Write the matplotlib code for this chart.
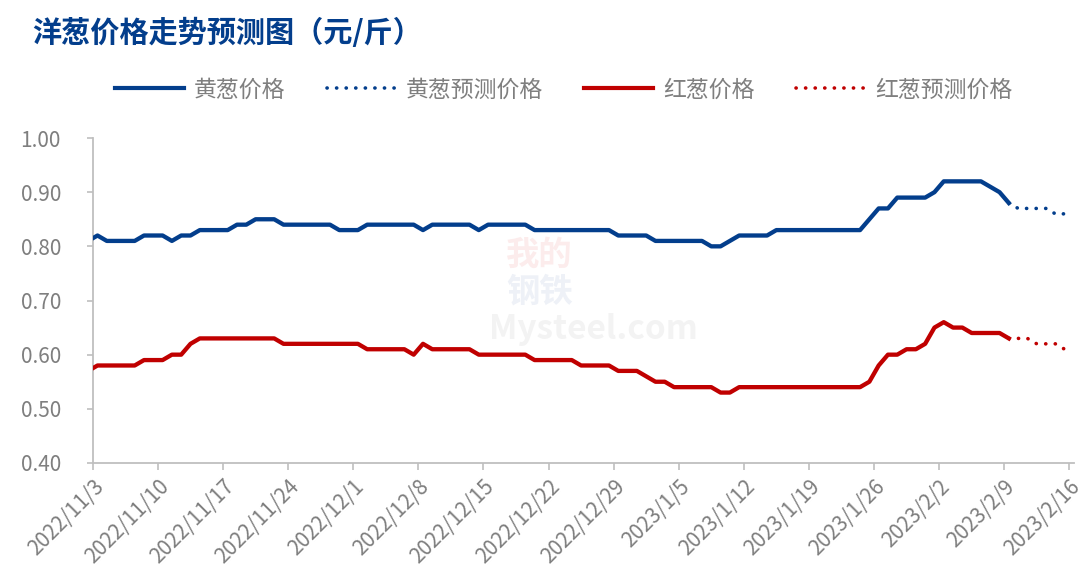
import matplotlib
matplotlib.use("Agg")
import matplotlib.pyplot as plt
import matplotlib.dates as mdates
import matplotlib.transforms as mtransforms
from matplotlib.lines import Line2D
import pandas as pd

plt.rcParams['font.family'] = ['Noto Sans CJK SC', 'DejaVu Sans']

# ---------------- data ----------------
actual_start = "2022-11-02"
yellow_actual = [
    0.81, 0.82, 0.81, 0.81, 0.81, 0.81, 0.82, 0.82, 0.82, 0.81,
    0.82, 0.82, 0.83, 0.83, 0.83, 0.83, 0.84, 0.84, 0.85, 0.85,
    0.85, 0.84, 0.84, 0.84, 0.84, 0.84, 0.84, 0.83, 0.83, 0.83,
    0.84, 0.84, 0.84, 0.84, 0.84, 0.84, 0.83, 0.84, 0.84, 0.84,
    0.84, 0.84, 0.83, 0.84, 0.84, 0.84, 0.84, 0.84, 0.83, 0.83,
    0.83, 0.83, 0.83, 0.83, 0.83, 0.83, 0.83, 0.82, 0.82, 0.82,
    0.82, 0.81, 0.81, 0.81, 0.81, 0.81, 0.81, 0.80, 0.80, 0.81,
    0.82, 0.82, 0.82, 0.82, 0.83, 0.83, 0.83, 0.83, 0.83, 0.83,
    0.83, 0.83, 0.83, 0.83, 0.85, 0.87, 0.87, 0.89, 0.89, 0.89,
    0.89, 0.90, 0.92, 0.92, 0.92, 0.92, 0.92, 0.91, 0.90, 0.88,
]
red_actual = [
    0.57, 0.58, 0.58, 0.58, 0.58, 0.58, 0.59, 0.59, 0.59, 0.60,
    0.60, 0.62, 0.63, 0.63, 0.63, 0.63, 0.63, 0.63, 0.63, 0.63,
    0.63, 0.62, 0.62, 0.62, 0.62, 0.62, 0.62, 0.62, 0.62, 0.62,
    0.61, 0.61, 0.61, 0.61, 0.61, 0.60, 0.62, 0.61, 0.61, 0.61,
    0.61, 0.61, 0.60, 0.60, 0.60, 0.60, 0.60, 0.60, 0.59, 0.59,
    0.59, 0.59, 0.59, 0.58, 0.58, 0.58, 0.58, 0.57, 0.57, 0.57,
    0.56, 0.55, 0.55, 0.54, 0.54, 0.54, 0.54, 0.54, 0.53, 0.53,
    0.54, 0.54, 0.54, 0.54, 0.54, 0.54, 0.54, 0.54, 0.54, 0.54,
    0.54, 0.54, 0.54, 0.54, 0.55, 0.58, 0.60, 0.60, 0.61, 0.61,
    0.62, 0.65, 0.66, 0.65, 0.65, 0.64, 0.64, 0.64, 0.64, 0.63,
]
forecast_start = "2023-02-09"
yellow_forecast = [0.88, 0.87, 0.87, 0.87, 0.87, 0.86, 0.86]
red_forecast = [0.63, 0.63, 0.63, 0.62, 0.62, 0.62, 0.61]

tick_labels = ["2022/11/3", "2022/11/10", "2022/11/17", "2022/11/24", "2022/12/1",
               "2022/12/8", "2022/12/15", "2022/12/22", "2022/12/29", "2023/1/5",
               "2023/1/12", "2023/1/19", "2023/1/26", "2023/2/2", "2023/2/9",
               "2023/2/16"]
y_ticks = [0.40, 0.50, 0.60, 0.70, 0.80, 0.90, 1.00]

labels = ["黄葱价格", "黄葱预测价格", "红葱价格", "红葱预测价格"]
title = "洋葱价格走势预测图（元/斤）"

# ---------------- styling ----------------
BLUE = "#033e8c"
RED = "#c00000"
GRAY_TXT = "#7f7f7f"
GRAY_AX = "#bfbfbf"

x_act = mdates.date2num(pd.date_range(actual_start, periods=len(yellow_actual)))
x_fc = mdates.date2num(pd.date_range(forecast_start, periods=len(yellow_forecast)))
tick_pos = mdates.date2num(pd.to_datetime(tick_labels, format="%Y/%m/%d")) - 0.5

fig = plt.figure(figsize=(10.86, 5.72), dpi=100)
ax = fig.add_axes([0.0855, 0.1906, 0.9034, 0.5681])

# watermark (behind data)
ax.text(0.455, 0.64, "我的", transform=ax.transAxes, fontsize=24, color="#fcecec",
        fontweight='bold', ha='center', va='center', zorder=0)
ax.text(0.455, 0.525, "钢铁", transform=ax.transAxes, fontsize=24, color="#eef1f7",
        fontweight='bold', ha='center', va='center', zorder=0)
ax.text(0.51, 0.41, "Mysteel.com", transform=ax.transAxes, fontsize=24,
        color="#f3f3f3", fontweight='bold', ha='center', va='center', zorder=0)

dot_style = (0, (0.05, 2.6))
ax.plot(x_act, yellow_actual, color=BLUE, lw=3.1, solid_joinstyle='round', zorder=3)
ax.plot(x_fc, yellow_forecast, color=BLUE, lw=2.6, ls=dot_style,
        dash_capstyle='round', zorder=3)
ax.plot(x_act, red_actual, color=RED, lw=3.1, solid_joinstyle='round', zorder=3)
ax.plot(x_fc, red_forecast, color=RED, lw=2.6, ls=dot_style,
        dash_capstyle='round', zorder=3)

ax.set_xlim(tick_pos[0], tick_pos[-1] + 0.5)
ax.set_ylim(0.40, 1.00)
ax.set_yticks(y_ticks)
ax.set_yticklabels([f"{v:.2f}" for v in y_ticks])
ax.set_xticks(tick_pos)
ax.set_xticklabels(tick_labels, rotation=45, ha='right', va='top',
                   rotation_mode='anchor')
offset = mtransforms.ScaledTranslation(0.5 / 72, -15 / 72, fig.dpi_scale_trans)
for lab in ax.get_xticklabels():
    lab.set_transform(lab.get_transform() + offset)

for s in ['top', 'right']:
    ax.spines[s].set_visible(False)
for s in ['left', 'bottom']:
    ax.spines[s].set_color(GRAY_AX)
    ax.spines[s].set_linewidth(1.3)

ax.tick_params(axis='y', colors=GRAY_AX, labelcolor=GRAY_TXT,
               labelsize=15, length=4, width=1.2, pad=19)
ax.tick_params(axis='x', colors=GRAY_AX, labelcolor=GRAY_TXT,
               labelsize=15, length=5, width=1.2, pad=4)

# title
fig.text(0.030, 0.942, title, fontsize=21, color=BLUE, fontweight='bold',
         ha='left', va='center')

# legend
handles = [
    Line2D([], [], color=BLUE, lw=3),
    Line2D([], [], color=BLUE, lw=2.6, ls=dot_style, dash_capstyle='round'),
    Line2D([], [], color=RED, lw=3),
    Line2D([], [], color=RED, lw=2.6, ls=dot_style, dash_capstyle='round'),
]
leg = fig.legend(handles, labels, loc='center', bbox_to_anchor=(0.519, 0.843),
                 ncol=4, frameon=False, fontsize=16.5, handlelength=3.0,
                 handletextpad=0.45, columnspacing=1.8)
for t in leg.get_texts():
    t.set_color(GRAY_TXT)

fig.savefig("out.png", dpi=100)
